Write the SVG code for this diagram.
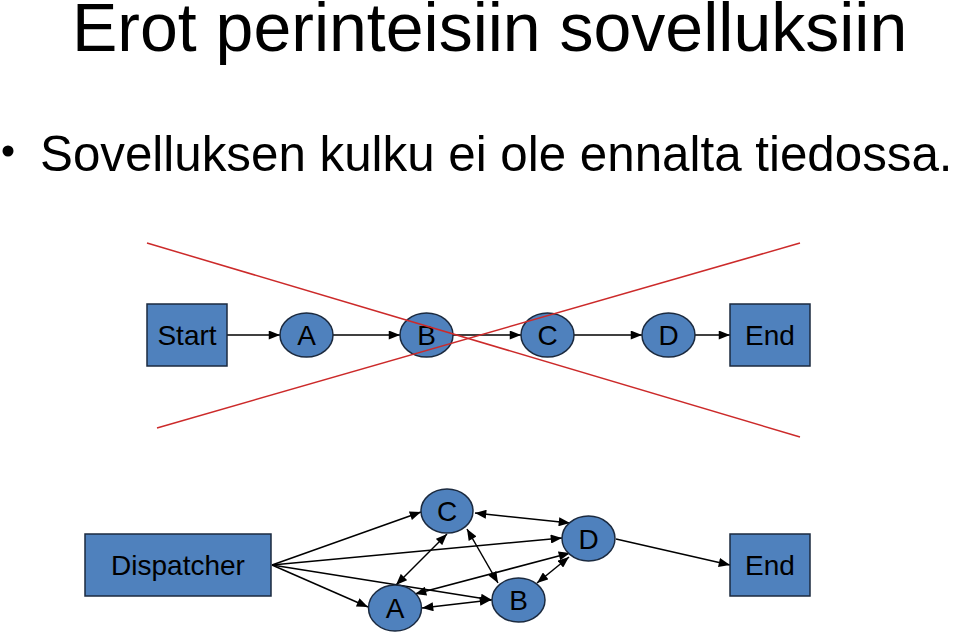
<svg xmlns="http://www.w3.org/2000/svg" width="960" height="634" viewBox="0 0 960 634">
<style>
text{font-family:"Liberation Sans",Arial,sans-serif;fill:#000}
.t{font-size:68px}
.b{font-size:49.3px}
.l{font-size:28px;text-anchor:middle}
.n{fill:#4f81bd;stroke:#1b2a3f;stroke-width:1.5}
.c{stroke:#000;stroke-width:1.5;fill:none}
.a{marker-end:url(#ah)}
.d{marker-start:url(#as);marker-end:url(#ah)}
.x{stroke:#cc2a2a;stroke-width:1.5}
</style>
<defs>
<marker id="ah" viewBox="0 0 10 8" refX="10" refY="4" markerWidth="12" markerHeight="9" markerUnits="userSpaceOnUse" orient="auto"><path d="M0,0L10,4L0,8z" fill="#000"/></marker>
<marker id="as" viewBox="0 0 10 8" refX="0" refY="4" markerWidth="12" markerHeight="9" markerUnits="userSpaceOnUse" orient="auto"><path d="M10,0L0,4L10,8z" fill="#000"/></marker>
</defs>
<g id="title"><text class="t" x="72" y="51">Erot perinteisiin sovelluksiin</text></g>
<g id="bullet"><circle cx="8" cy="151" r="5.5" fill="#000"/><text class="b" x="40" y="171">Sovelluksen kulku ei ole ennalta tiedossa.</text></g>
<g id="connectors">
<line class="c a" x1="227" y1="335" x2="280" y2="335"/>
<line class="c a" x1="333" y1="335" x2="400" y2="335"/>
<line class="c a" x1="453" y1="335" x2="521" y2="335"/>
<line class="c a" x1="574" y1="335" x2="642" y2="335"/>
<line class="c a" x1="695" y1="335" x2="730" y2="335"/>
<line class="c a" x1="272" y1="565" x2="421" y2="512"/>
<line class="c a" x1="272" y1="565" x2="562" y2="538"/>
<line class="c a" x1="272" y1="565" x2="492" y2="600"/>
<line class="c a" x1="272" y1="565" x2="368" y2="607"/>
<line class="c d" x1="447" y1="534" x2="396" y2="585"/>
<line class="c d" x1="467" y1="529" x2="498" y2="583"/>
<line class="c d" x1="475" y1="513" x2="570" y2="523"/>
<line class="c d" x1="415" y1="594" x2="570" y2="553"/>
<line class="c d" x1="422" y1="608" x2="491" y2="600"/>
<line class="c d" x1="537" y1="583" x2="569" y2="557"/>
<line class="c a" x1="616" y1="539" x2="730" y2="565"/>
</g>
<g id="start"><rect class="n" x="147" y="304" width="80" height="62"/><text class="l" x="187" y="345">Start</text></g>
<g id="a1"><ellipse class="n" cx="306.5" cy="335" rx="26.5" ry="22"/><text class="l" x="306.5" y="345">A</text></g>
<g id="b1"><ellipse class="n" cx="426.5" cy="335" rx="26.5" ry="22"/><text class="l" x="426.5" y="345">B</text></g>
<g id="c1"><ellipse class="n" cx="547.5" cy="335" rx="26.5" ry="22"/><text class="l" x="547.5" y="345">C</text></g>
<g id="d1"><ellipse class="n" cx="668.5" cy="335" rx="26.5" ry="22"/><text class="l" x="668.5" y="345">D</text></g>
<g id="end1"><rect class="n" x="730" y="304" width="80" height="62"/><text class="l" x="770" y="345">End</text></g>
<g id="cross"><line class="x" x1="147" y1="243" x2="800" y2="437"/><line class="x" x1="157" y1="428" x2="800" y2="243"/></g>
<g id="dispatcher"><rect class="n" x="85" y="534" width="186" height="62"/><text class="l" x="178" y="575">Dispatcher</text></g>
<g id="c2"><ellipse class="n" cx="447" cy="511" rx="26" ry="22"/><text class="l" x="447" y="521">C</text></g>
<g id="a2"><ellipse class="n" cx="395" cy="608" rx="26.5" ry="23"/><text class="l" x="395" y="618">A</text></g>
<g id="b2"><ellipse class="n" cx="518.5" cy="600" rx="26.5" ry="22"/><text class="l" x="518.5" y="610">B</text></g>
<g id="d2"><ellipse class="n" cx="588.5" cy="538.5" rx="26.5" ry="22.5"/><text class="l" x="588.5" y="548.5">D</text></g>
<g id="end2"><rect class="n" x="730" y="534" width="80" height="62"/><text class="l" x="770" y="575">End</text></g>
</svg>
